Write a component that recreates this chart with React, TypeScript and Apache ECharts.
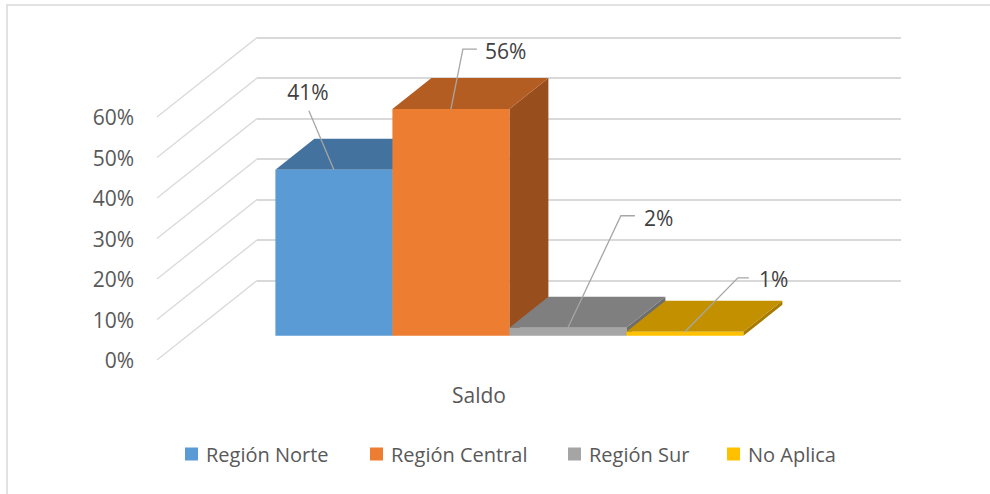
import React, { useEffect, useRef } from "react";
import * as echarts from "echarts";

// ---- data ----
const categories = ["Saldo"];
const seriesNames = ["Región Norte", "Región Central", "Región Sur", "No Aplica"];
const seriesValues = [0.41, 0.56, 0.02, 0.01];
const yTicks = [0, 0.1, 0.2, 0.3, 0.4, 0.5, 0.6];

// ---- styles ----
const FONT = "'Open Sans', 'Noto Sans', sans-serif";
const TEXT = "#595959";
const LABEL_TEXT = "#404040";
const GRID_COLOR = "#d9d9d9";
const faceColors = [
  { front: "#5B9BD5", top: "#43729E", side: "#3E6A93" },
  { front: "#ED7D31", top: "#B45D22", side: "#984F1D" },
  { front: "#A5A5A5", top: "#7F7F7F", side: "#6D6D6D" },
  { front: "#FFC000", top: "#C39000", side: "#A67B00" },
];
// geometry of the pseudo-3D view
const FRONT = { left: 157, top: 117, width: 644, height: 243 };
const DEPTH = [100, -79.5];
const Z0 = 0.304;
const Z1 = 0.694;
const BAR_FRAC = 117 / 644;
// data label leader lines / text offsets, relative to the bar's front top edge centre
const labelLayout = [
  { leader: [[0, 0], [-25, -59]], text: [-26, -78], align: "center" },
  { leader: [[0, 0], [12, -60], [26, -60]], text: [34, -58], align: "left" },
  { leader: [[0, 0], [53, -112], [67, -112]], text: [76, -110], align: "left" },
  { leader: [[0, 0], [53, -54], [64, -54]], text: [74, -53], align: "left" },
];
const legendLeft = [180, 365, 563, 722];

const pct = (v: number) => Math.round(v * 100) + "%";

export default function App() {
  const ref = useRef<HTMLDivElement>(null);
  useEffect(() => {
    if (!ref.current) return;
    const chart = echarts.init(ref.current, null, { renderer: "svg" });
    const n = seriesNames.length;

    const barSeries = seriesNames.map((name, i) => ({
      type: "custom",
      name,
      xAxisIndex: 0,
      yAxisIndex: 0,
      itemStyle: { color: faceColors[i].front },
      encode: { x: 0, y: 1 },
      data: [[0, seriesValues[i]]],
      z: 3,
      renderItem: (params: any, api: any) => {
        const v = api.value(1);
        const base = api.coord([0, 0]);
        const top = api.coord([0, v]);
        const band = api.size([1, 0])[0];
        const bw = band * BAR_FRAC;
        const xl = base[0] - (n / 2) * bw + i * bw;
        const xr = xl + bw;
        const ax = DEPTH[0] * Z0, ay = DEPTH[1] * Z0;
        const bx = DEPTH[0] * Z1, by = DEPTH[1] * Z1;
        const ty = top[1], yb = base[1];
        const c = faceColors[i];
        const lay = labelLayout[i];
        const anchor = [(xl + xr) / 2 + ax, ty + ay];
        return {
          type: "group",
          children: [
            {
              type: "polygon",
              shape: { points: [[xr + ax, ty + ay], [xr + bx, ty + by], [xr + bx, yb + by], [xr + ax, yb + ay]] },
              style: { fill: c.side },
            },
            {
              type: "polygon",
              shape: { points: [[xl + ax, ty + ay], [xr + ax, ty + ay], [xr + bx, ty + by], [xl + bx, ty + by]] },
              style: { fill: c.top },
            },
            {
              type: "rect",
              shape: { x: xl + ax, y: ty + ay, width: bw, height: yb - ty },
              style: { fill: c.front },
            },
            {
              type: "polyline",
              shape: { points: lay.leader.map((p) => [anchor[0] + p[0], anchor[1] + p[1]]) },
              style: { stroke: "#A6A6A6", lineWidth: 1.3, fill: "none" },
              z2: 10,
            },
            {
              type: "text",
              x: anchor[0] + lay.text[0],
              y: anchor[1] + lay.text[1],
              style: {
                text: pct(v),
                fontSize: 21,
                fontFamily: FONT,
                fill: LABEL_TEXT,
                align: lay.align,
                verticalAlign: "middle",
              },
              z2: 10,
            },
          ],
        };
      },
    }));

    const diagSeries = {
      type: "custom",
      name: "diag",
      xAxisIndex: 0,
      yAxisIndex: 0,
      encode: { x: 0, y: 1 },
      data: yTicks.map((t) => [0, t]),
      z: 1,
      silent: true,
      renderItem: (params: any, api: any) => {
        const y = api.coord([0, api.value(1)])[1];
        const x = params.coordSys.x;
        return {
          type: "line",
          shape: { x1: x, y1: y, x2: x + DEPTH[0], y2: y + DEPTH[1] },
          style: { stroke: GRID_COLOR, lineWidth: 1.3 },
        };
      },
    };

    const legends = seriesNames.map((name, i) => ({
      data: [name],
      left: legendLeft[i],
      top: 439,
      itemWidth: 13,
      itemHeight: 13,
      icon: "rect",
      selectedMode: false,
      textStyle: { fontSize: 20, color: TEXT, fontFamily: FONT, padding: [0, 0, 0, 3] },
    }));

    chart.setOption({
      animation: false,
      backgroundColor: "#ffffff",
      textStyle: { fontFamily: FONT },
      grid: [
        { left: FRONT.left, top: FRONT.top, width: FRONT.width, height: FRONT.height },
        {
          left: FRONT.left + DEPTH[0],
          top: FRONT.top + DEPTH[1],
          width: FRONT.width,
          height: FRONT.height,
        },
      ],
      xAxis: [
        {
          type: "category",
          gridIndex: 0,
          data: categories,
          axisLine: { show: false },
          axisTick: { show: false },
          axisLabel: { fontSize: 21, color: TEXT, fontFamily: FONT, margin: 24 },
        },
        {
          type: "category",
          gridIndex: 1,
          data: categories,
          show: false,
        },
      ],
      yAxis: [
        {
          type: "value",
          gridIndex: 0,
          min: 0,
          max: 0.6,
          interval: 0.1,
          axisLine: { show: false },
          axisTick: { show: false },
          splitLine: { show: false },
          axisLabel: { fontSize: 21, color: TEXT, fontFamily: FONT, margin: 23, formatter: pct },
        },
        {
          type: "value",
          gridIndex: 1,
          min: 0,
          max: 0.6,
          interval: 0.1,
          axisLine: { show: false },
          axisTick: { show: false },
          axisLabel: { show: false },
          splitLine: { show: true, lineStyle: { color: GRID_COLOR, width: 1.8 } },
        },
      ],
      legend: legends,
      graphic: [
        {
          type: "rect",
          shape: { x: 7, y: 5, width: 1100, height: 700 },
          style: { fill: "none", stroke: "#d9d9d9", lineWidth: 1.5 },
          silent: true,
        },
      ],
      series: [diagSeries, ...barSeries],
    });
    return () => chart.dispose();
  }, []);
  return (
    <div
      ref={ref}
      style={{ position: "fixed", left: 0, top: 0, width: 990, height: 494, background: "#fff" }}
    />
  );
}
